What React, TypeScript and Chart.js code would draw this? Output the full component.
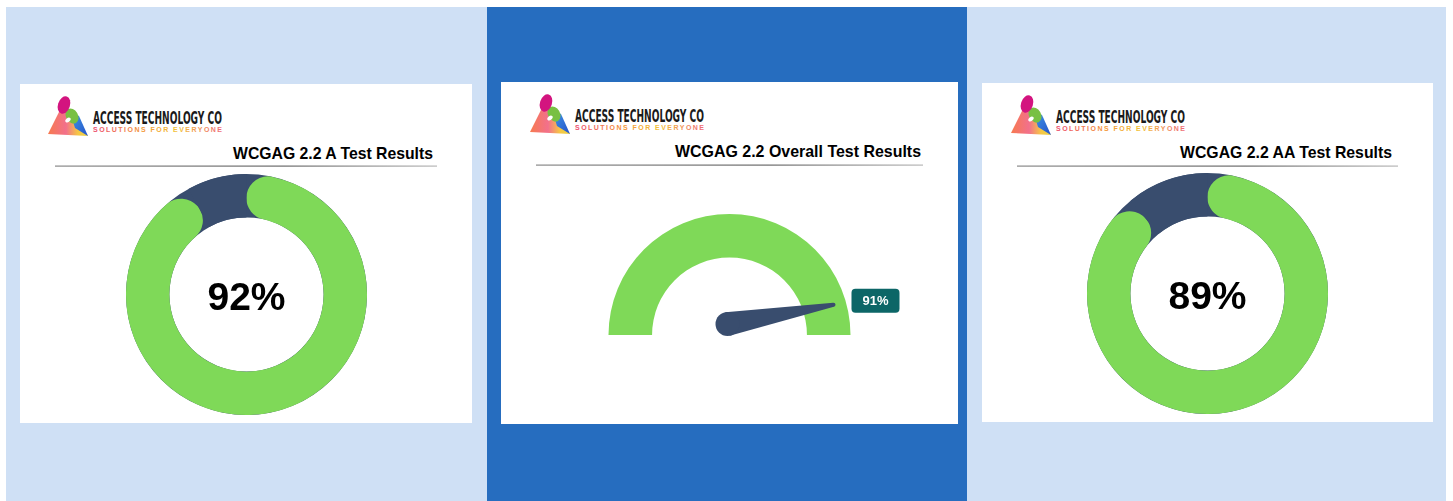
import React, { useEffect, useRef } from "react";
import { Chart, registerables } from "chart.js";

Chart.register(...registerables);

// ---------- data ----------
const cardTitles = [
  "WCGAG 2.2 A Test Results",
  "WCGAG 2.2 Overall Test Results",
  "WCGAG 2.2 AA Test Results",
];
const resultLabels = ["Pass", "Remaining"];
const levelAResults = [92, 8];
const levelAAResults = [89, 11];
const overallResult = [91];
const overallScaleMax = [100];
const companyName = "ACCESS TECHNOLOGY CO";
const companyTagline = "SOLUTIONS FOR EVERYONE";

// ---------- styles ----------
const GREEN = "#7fd958";
const NAVY = "#394d6e";
const TEAL = "#0c6667";
const LIGHT_BLUE = "#cfe0f5";
const DARK_BLUE = "#266dbf";
const FONT = "'Liberation Sans', Arial, Helvetica, sans-serif";

const trackPlugin = {
  id: "track",
  beforeDatasetsDraw(chart: any) {
    const arc: any = chart.getDatasetMeta(0).data[0];
    if (!arc) return;
    const { x, y, innerRadius, outerRadius } = arc;
    const ctx = chart.ctx;
    ctx.save();
    ctx.beginPath();
    ctx.arc(x, y, outerRadius, 0, Math.PI * 2);
    ctx.arc(x, y, innerRadius, 0, Math.PI * 2, true);
    ctx.fillStyle = NAVY;
    ctx.fill();
    ctx.restore();
  },
};

const centerTextPlugin = {
  id: "centerText",
  afterDatasetsDraw(chart: any) {
    const arc: any = chart.getDatasetMeta(0).data[0];
    if (!arc) return;
    const value = chart.data.datasets[0].data[0];
    const ctx = chart.ctx;
    ctx.save();
    ctx.font = `bold 39px ${FONT}`;
    ctx.fillStyle = "#000";
    ctx.textAlign = "center";
    ctx.textBaseline = "alphabetic";
    ctx.fillText(`${value}%`, arc.x, arc.y + 15);
    ctx.restore();
  },
};

const needlePlugin = {
  id: "needle",
  afterDatasetsDraw(chart: any) {
    const arc: any = chart.getDatasetMeta(0).data[0];
    if (!arc) return;
    const { x, y, outerRadius } = arc;
    const value = overallResult[0];
    const max = overallScaleMax[0];
    const angle = Math.PI + (value / max) * Math.PI;
    const len = outerRadius * 0.895;
    const tipX = x + Math.cos(angle) * len;
    const tipY = y + Math.sin(angle) * len;
    const bx = x - 2;
    const by = y - 11;
    const br = 12;
    const dx = tipX - bx;
    const dy = tipY - by;
    const d = Math.hypot(dx, dy);
    const px = -dy / d;
    const py = dx / d;
    const ctx = chart.ctx;
    ctx.save();
    ctx.fillStyle = NAVY;
    ctx.beginPath();
    ctx.moveTo(bx + px * br, by + py * br);
    ctx.lineTo(tipX + px * 2, tipY + py * 2);
    ctx.lineTo(tipX - px * 2, tipY - py * 2);
    ctx.lineTo(bx - px * br, by - py * br);
    ctx.closePath();
    ctx.fill();
    ctx.beginPath();
    ctx.arc(bx, by, br, 0, Math.PI * 2);
    ctx.fill();
    ctx.beginPath();
    ctx.arc(tipX, tipY, 2, 0, Math.PI * 2);
    ctx.fill();

    // value label
    const bw = 48;
    const bh = 24;
    const lx = tipX + 18;
    const ly = tipY - 4 - bh / 2;
    ctx.fillStyle = TEAL;
    ctx.beginPath();
    (ctx as any).roundRect(lx, ly, bw, bh, 4);
    ctx.fill();
    ctx.fillStyle = "#fff";
    ctx.font = `bold 13px ${FONT}`;
    ctx.textAlign = "center";
    ctx.textBaseline = "middle";
    ctx.fillText(`${value}%`, lx + bw / 2, ly + bh / 2 + 1);
    ctx.restore();
  },
};

function Donut({ values, left, top }: { values: number[]; left: number; top: number }) {
  const ref = useRef<HTMLCanvasElement>(null);
  useEffect(() => {
    const chart = new Chart(ref.current as HTMLCanvasElement, {
      type: "doughnut",
      data: {
        labels: resultLabels,
        datasets: [
          {
            data: values,
            backgroundColor: [GREEN, NAVY],
            borderWidth: 0,
            hoverOffset: 0,
            offset: 0,
            borderRadius: (c: any) => (c.dataIndex === 0 ? 22 : 0),
          } as any,
        ],
      },
      options: {
        responsive: false,
        animation: false,
        events: [],
        cutout: "64%",
        rotation: 0,
        layout: { padding: 0 },
        plugins: { legend: { display: false }, tooltip: { enabled: false } },
      } as any,
      plugins: [trackPlugin, centerTextPlugin],
    });
    return () => chart.destroy();
  }, []);
  return (
    <canvas
      ref={ref}
      width={241}
      height={241}
      style={{ position: "absolute", left, top, width: 241, height: 241 }}
    />
  );
}

function Gauge({ left, top }: { left: number; top: number }) {
  const ref = useRef<HTMLCanvasElement>(null);
  useEffect(() => {
    const chart = new Chart(ref.current as HTMLCanvasElement, {
      type: "doughnut",
      data: {
        labels: ["Scale"],
        datasets: [
          {
            data: overallScaleMax,
            backgroundColor: [GREEN],
            borderWidth: 0,
            hoverOffset: 0,
            offset: 0,
          } as any,
        ],
      },
      options: {
        responsive: false,
        animation: false,
        events: [],
        cutout: "64%",
        rotation: -90,
        circumference: 180,
        layout: { padding: { left: 17, right: 70, top: 13, bottom: 6 } },
        plugins: { legend: { display: false }, tooltip: { enabled: false } },
      } as any,
      plugins: [needlePlugin],
    });
    return () => chart.destroy();
  }, []);
  return (
    <canvas
      ref={ref}
      width={330}
      height={140}
      style={{ position: "absolute", left, top, width: 330, height: 140 }}
    />
  );
}

function Logo({ x, y, id }: { x: number; y: number; id: string }) {
  return (
    <g transform={`translate(${x},${y})`}>
      <defs>
        <linearGradient id={`tri${id}`} x1="0" y1="0" x2="1" y2="0">
          <stop offset="0" stopColor="#f77a4f" />
          <stop offset="0.45" stopColor="#f2708c" />
          <stop offset="0.75" stopColor="#f6c744" />
          <stop offset="1" stopColor="#e9d24a" />
        </linearGradient>
        <linearGradient id={`blue${id}`} x1="0" y1="0" x2="1" y2="1">
          <stop offset="0" stopColor="#3f9be8" />
          <stop offset="1" stopColor="#2653c9" />
        </linearGradient>
        <linearGradient id={`tag${id}`} x1="0" y1="0" x2="1" y2="0">
          <stop offset="0" stopColor="#ec4f6e" />
          <stop offset="0.4" stopColor="#f39b3a" />
          <stop offset="0.65" stopColor="#f2c23a" />
          <stop offset="1" stopColor="#ee6a78" />
        </linearGradient>
      </defs>
      <polygon points="0,37 15,7 40,39" fill={`url(#tri${id})`} />
      <polygon points="22,15 31,19 40,39 27,31" fill={`url(#blue${id})`} />
      <ellipse cx="24" cy="19" rx="6" ry="8" transform="rotate(-30 24 19)" fill="#78c043" />
      <ellipse cx="20" cy="23" rx="3" ry="2" fill="#fff" transform="rotate(-40 20 23)" />
      <ellipse cx="16" cy="8" rx="6" ry="9" transform="rotate(18 16 8)" fill="#d3147f" />
      <text
        x="45"
        y="27"
        fontFamily="'Liberation Sans Narrow', 'DejaVu Sans Condensed', 'Liberation Sans', sans-serif"
        fontWeight="bold"
        fontSize="18"
        fill="#1a1a1a"
        textLength="129"
        lengthAdjust="spacingAndGlyphs"
      >
        {companyName}
      </text>
      <text
        x="45"
        y="35"
        fontFamily={FONT}
        fontWeight="bold"
        fontSize="7"
        fill={`url(#tag${id})`}
        textLength="129"
        lengthAdjust="spacing"
      >
        {companyTagline}
      </text>
    </g>
  );
}

function Card(props: {
  id: string;
  left: number;
  top: number;
  width: number;
  height: number;
  title: string;
  titleRight: number;
  titleWidth: number;
  lineY: number;
  lineX1: number;
  lineX2: number;
  logoX: number;
  logoY: number;
  children?: any;
}) {
  const p = props;
  return (
    <div
      style={{
        position: "absolute",
        left: p.left,
        top: p.top,
        width: p.width,
        height: p.height,
        background: "#fff",
      }}
    >
      <svg
        width={p.width}
        height={100}
        style={{ position: "absolute", left: 0, top: 0 }}
      >
        <defs>
          <linearGradient id={`line${p.id}`} x1="0" y1="0" x2="1" y2="0">
            <stop offset="0" stopColor="#8a8a8a" />
            <stop offset="0.6" stopColor="#6a6a6a" />
            <stop offset="1" stopColor="#b8b8b8" />
          </linearGradient>
        </defs>
        <Logo x={p.logoX} y={p.logoY} id={p.id} />
        <text
          x={p.titleRight}
          y={75}
          textAnchor="end"
          fontFamily={FONT}
          fontWeight="bold"
          fontSize="17"
          fill="#000"
          textLength={p.titleWidth}
          lengthAdjust="spacingAndGlyphs"
        >
          {p.title}
        </text>
        <rect
          x={p.lineX1}
          y={p.lineY - 0.5}
          width={p.lineX2 - p.lineX1}
          height={1.2}
          fill={`url(#line${p.id})`}
        />
      </svg>
      {p.children}
    </div>
  );
}

export default function App() {
  return (
    <div
      style={{
        position: "absolute",
        left: 0,
        top: 0,
        width: 1453,
        height: 501,
        background: "#fff",
        overflow: "hidden",
      }}
    >
      <div style={{ position: "absolute", left: 6, top: 7, width: 481, height: 494, background: LIGHT_BLUE }} />
      <div style={{ position: "absolute", left: 487, top: 7, width: 480, height: 494, background: DARK_BLUE }} />
      <div style={{ position: "absolute", left: 967, top: 7, width: 479, height: 494, background: LIGHT_BLUE }} />

      <Card
        id="a"
        left={20}
        top={84}
        width={452}
        height={339}
        title={cardTitles[0]}
        titleRight={413}
        titleWidth={200}
        lineY={82}
        lineX1={35}
        lineX2={417}
        logoX={28}
        logoY={13}
      >
        <Donut values={levelAResults} left={106} top={90} />
      </Card>

      <Card
        id="o"
        left={501}
        top={82}
        width={457}
        height={342}
        title={cardTitles[1]}
        titleRight={420}
        titleWidth={246}
        lineY={83}
        lineX1={35}
        lineX2={422}
        logoX={29}
        logoY={13}
      >
        <Gauge left={90} top={119} />
      </Card>

      <Card
        id="aa"
        left={982}
        top={83}
        width={451}
        height={339}
        title={cardTitles[2]}
        titleRight={410}
        titleWidth={212}
        lineY={83}
        lineX1={35}
        lineX2={416}
        logoX={29}
        logoY={13}
      >
        <Donut values={levelAAResults} left={105} top={90} />
      </Card>
    </div>
  );
}
